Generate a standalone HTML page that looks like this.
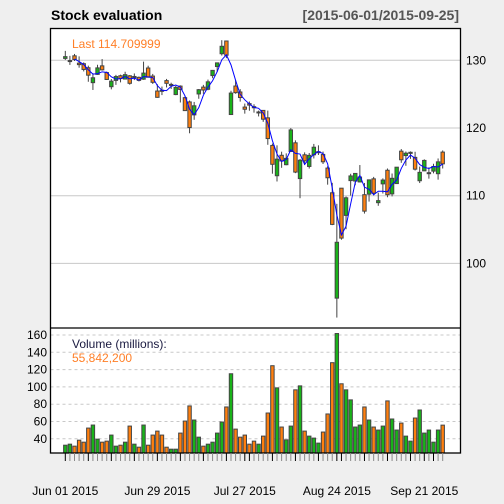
<!DOCTYPE html>
<html><head><meta charset="utf-8"><style>
html,body{margin:0;padding:0;background:#efefef;}
svg{display:block;font-family:"Liberation Sans",Arial,sans-serif;}
</style></head><body>
<svg id="chart" width="504" height="504" viewBox="0 0 504 504" xmlns="http://www.w3.org/2000/svg">
<rect x="0" y="0" width="504" height="504" fill="#efefef"/>
<text x="51" y="20" font-size="14" font-weight="bold" fill="#000">Stock evaluation</text>
<text x="459" y="20" font-size="14" font-weight="bold" fill="#555" text-anchor="end">[2015-06-01/2015-09-25]</text>
<rect x="50.5" y="28.5" width="410" height="299.5" fill="#fff"/>
<rect x="50.5" y="328" width="410" height="125" fill="#fff"/>
<g id="grid"></g>
<g id="marks"></g>
<rect x="50.5" y="28.5" width="410" height="424.5" fill="none" stroke="#000" stroke-width="1.3"/>
<line x1="50.5" y1="328" x2="460.5" y2="328" stroke="#000" stroke-width="1.3"/>
<text x="72" y="48" font-size="12" fill="#ff7f27">Last 114.709999</text>
<text x="72" y="348" font-size="12" fill="#1a1a40">Volume (millions):</text>
<text x="72" y="362" font-size="12" fill="#ff7f27">55,842,200</text>
<g id="axes"></g>
</svg>
<script>
const dates=["Jun 01 2015","Jun 29 2015","Jul 27 2015","Aug 24 2015","Sep 21 2015"];
const dateIdx=[0,20,39,59,78];
const priceTicks=[100,110,120,130];
const volTicks=[40,60,80,100,120,140,160];
const open=[130.28,129.86,130.66,129.58,129.50,128.90,126.70,127.92,129.18,128.19,126.10,127.03,127.72,127.23,127.71,127.49,127.48,127.21,128.86,127.67,125.46,125.57,127.00,126.43,124.94,126.19,124.48,123.85,121.94,125.03,126.04,125.72,127.74,129.08,130.97,132.85,121.99,126.20,125.32,123.09,123.60,123.15,122.32,122.60,121.50,117.42,112.95,115.97,114.58,116.53,117.81,112.53,116.04,114.32,116.04,116.43,116.10,114.08,110.43,94.87,111.11,107.09,112.23,112.17,112.03,110.15,110.23,112.49,108.97,111.75,113.76,110.27,111.79,116.58,115.93,116.25,115.66,112.21,113.67,113.38,113.63,113.25,116.44];
const high=[131.39,130.66,130.94,130.58,129.69,129.21,128.08,129.34,130.18,128.33,127.24,127.85,127.88,128.31,127.82,128.06,127.61,129.80,129.20,127.99,126.47,126.12,127.25,126.69,126.23,126.30,124.64,124.06,123.85,125.76,126.37,127.15,128.57,129.62,132.97,132.92,125.50,127.09,125.74,123.61,123.91,123.50,122.57,122.64,122.57,117.70,117.44,116.50,116.25,119.99,118.18,115.42,116.40,116.31,117.65,117.44,116.52,114.35,111.90,108.80,111.11,109.89,113.24,113.31,114.53,111.88,112.34,112.78,110.45,112.56,114.02,113.28,114.21,116.89,116.53,116.54,116.49,114.30,115.37,114.18,114.72,115.50,116.69];
const low=[130.05,129.32,129.90,128.91,128.36,126.83,125.62,127.85,128.48,127.11,125.71,126.37,126.74,127.22,126.40,127.08,126.88,127.12,127.50,126.51,124.48,124.86,125.99,125.77,124.85,123.77,122.54,119.22,121.21,124.32,125.04,125.58,127.35,128.31,130.70,130.32,121.99,125.06,123.90,122.12,122.55,122.27,121.71,120.91,117.52,113.25,112.10,114.12,114.50,116.53,113.33,109.63,114.54,114.01,115.50,116.01,114.68,111.63,105.65,92.00,103.50,105.05,110.02,111.54,112.00,107.36,109.13,110.04,108.51,110.32,109.77,109.90,111.76,114.86,114.42,115.44,113.72,111.87,113.66,112.52,113.30,112.37,114.02];
const close=[130.54,129.96,130.12,129.36,128.65,127.80,127.42,128.88,128.59,127.17,126.92,127.60,127.30,127.88,126.60,127.61,127.03,128.11,127.50,126.75,124.53,125.43,126.60,126.44,126.00,125.69,122.57,120.07,123.28,125.66,125.61,126.82,128.51,129.62,132.07,130.75,125.16,125.22,124.50,122.77,123.38,122.99,122.37,121.30,118.44,114.64,115.40,115.13,115.52,119.72,113.49,115.24,115.15,115.96,117.16,116.50,115.01,112.65,105.76,103.12,103.74,109.69,112.92,113.29,112.76,107.72,112.34,110.37,109.27,112.31,110.15,112.57,114.21,115.31,116.28,116.41,113.92,113.45,115.21,113.40,114.32,115.00,114.71];
const volume=[32.6,33.8,31.5,38.4,36.1,52.4,55.9,39.6,36.1,37.3,44.3,31.5,32.6,36.1,54.7,33.8,30.3,55.9,32.6,44.3,48.9,44.3,30.3,28,28,46.6,60.5,78,61.7,41.9,31.5,33.8,36.1,46.6,59.4,76.8,115.2,51.2,41.9,44.3,33.8,37.3,33.8,43.1,69.8,124.5,98.9,53.6,38.8,54.7,96.6,101.2,48.9,43.1,40.8,35,47.8,68.7,128,161.7,103.6,96.6,85,53.6,55.9,76.8,61.7,53.6,50.1,54.7,83.8,62.9,50.1,58.2,43.1,37.3,64,73.3,46.6,50.1,36.1,50.1,55.8];

const NS="http://www.w3.org/2000/svg";
const n=close.length;
function xS(i){return 65.3+i*(442.7-65.3)/(n-1);}
function yP(v){return 60.3+(130-v)*6.77;}
function yV(v){return 335+(160-v)*0.865;}
function mk(tag,attrs,parent){const e=document.createElementNS(NS,tag);for(const k in attrs)e.setAttribute(k,attrs[k]);parent.appendChild(e);return e;}
const grid=document.getElementById('grid'),marks=document.getElementById('marks'),axes=document.getElementById('axes');
const GREEN="#19b319",ORANGE="#ff7f0e",EDGE="#444";

priceTicks.forEach(t=>{
  const y=yP(t);
  const l=mk('line',{x1:50.5,x2:460.5,y1:y,y2:y,stroke:'#c8c8c8','stroke-width':1},grid);
  
  
  const tx=mk('text',{x:466,y:y+4,'font-size':12,fill:'#000'},axes);
  tx.textContent=t;
  
  
});
volTicks.forEach(t=>{
  const y=yV(t);
  const l=mk('line',{x1:50.5,x2:460.5,y1:y,y2:y,stroke:'#c8c8c8','stroke-width':1,'stroke-dasharray':'3,3'},grid);
  
  
  const tx=mk('text',{x:47,y:y+4,'font-size':12,fill:'#000','text-anchor':'end'},axes);
  tx.textContent=t;
  
  
});

const bw=3.4;
for(let i=0;i<n;i++){
  const x=xS(i),up=close[i]>=open[i],col=up?GREEN:ORANGE;
  const w=mk('line',{x1:x,x2:x,y1:yP(high[i]),y2:yP(low[i]),stroke:EDGE,'stroke-width':1},marks);
  
  
  const t=yP(Math.max(open[i],close[i])),b=yP(Math.min(open[i],close[i]));
  const r=mk('rect',{x:x-bw/2,y:t,width:bw,height:Math.max(b-t,1),fill:col,stroke:EDGE,'stroke-width':1},marks);
  
  
  const vt=yV(volume[i]);
  const vb=mk('rect',{x:x-bw/2,y:vt,width:bw,height:453-vt,fill:col,stroke:EDGE,'stroke-width':1},marks);
  
  
  const major=dateIdx.includes(i)||(i%5===0);
  const tk=mk('line',{x1:x,x2:x,y1:453,y2:461,stroke:major?'#000':'#888','stroke-width':1},axes);
  
  
}
// SMA(3)
let pts=[];
for(let i=2;i<n;i++){const s=(close[i]+close[i-1]+close[i-2])/3;pts.push(xS(i).toFixed(2)+','+yP(s).toFixed(2));}
const pl=mk('polyline',{points:pts.join(' '),fill:'none',stroke:'#0000ff','stroke-width':1},marks);



dates.forEach((d,k)=>{
  const tx=mk('text',{x:xS(dateIdx[k]),y:495,'font-size':12,fill:'#000','text-anchor':'middle'},axes);
  tx.textContent=d;
  
  
});
</script>
</body></html>
